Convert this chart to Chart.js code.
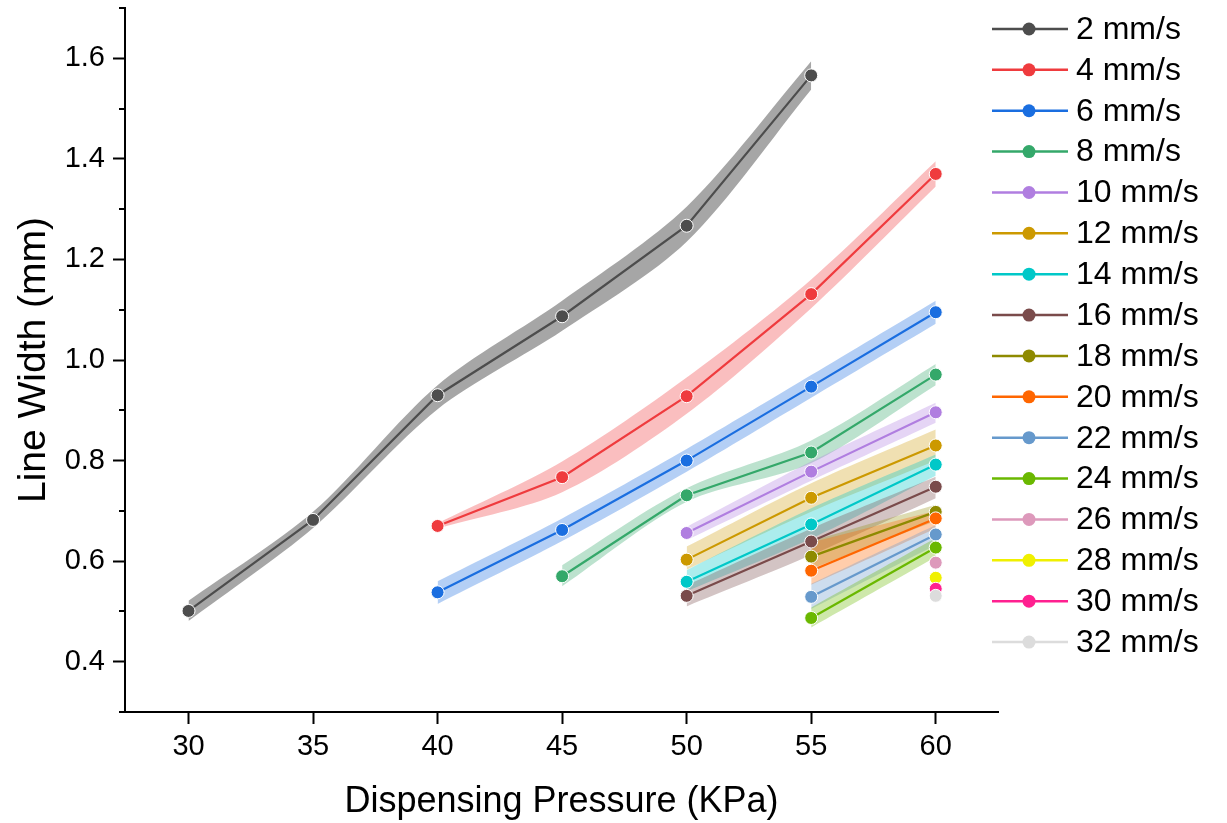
<!DOCTYPE html>
<html>
<head>
<meta charset="utf-8">
<script src="https://cdn.jsdelivr.net/npm/chart.js@4.4.1/dist/chart.umd.min.js"></script>
<style>
    html, body { margin: 0; padding: 0; background: #fff; }
</style>
</head>
<body>
<canvas id="chart" width="1227" height="823"></canvas>
<script>
// trykk (KPa) langs x-aksen
const pressures = [30, 35, 40, 45, 50, 55, 60];
const xTicks = [30, 35, 40, 45, 50, 55, 60];
const yTicks = [0.4, 0.6, 0.8, 1.0, 1.2, 1.4, 1.6];
const yMinorTicks = [0.3, 0.5, 0.7, 0.9, 1.1, 1.3, 1.5, 1.7];

// linjebredde (mm), null = ikke målt
const w2 = [0.501, 0.682, 0.930, 1.087, 1.267, 1.566, null];
const w4 = [null, null, 0.670, 0.767, 0.928, 1.131, 1.370];
const w6 = [null, null, 0.538, 0.662, 0.800, 0.947, 1.095];
const w8 = [null, null, null, 0.570, 0.731, 0.816, 0.971];
const w10 = [null, null, null, null, 0.656, 0.778, 0.896];
const w12 = [null, null, null, null, 0.603, 0.726, 0.830];
const w14 = [null, null, null, null, 0.559, 0.673, 0.792];
const w16 = [null, null, null, null, 0.531, 0.639, 0.748];
const w18 = [null, null, null, null, null, 0.609, 0.698];
const w20 = [null, null, null, null, null, 0.581, 0.685];
const w22 = [null, null, null, null, null, 0.529, 0.653];
const w24 = [null, null, null, null, null, 0.487, 0.627];
const w26 = [null, null, null, null, null, null, 0.597];
const w28 = [null, null, null, null, null, null, 0.567];
const w30 = [null, null, null, null, null, null, 0.545];
const w32 = [null, null, null, null, null, null, 0.531];

// nedre / øvre grense for skyggebåndet (samme punkter som målingene)
const lo2 = [0.481, 0.666, 0.902, 1.058, 1.235, 1.538];
const hi2 = [0.521, 0.698, 0.950, 1.118, 1.305, 1.594];
const lo4 = [0.665, 0.737, 0.893, 1.103, 1.345];
const hi4 = [0.675, 0.798, 0.965, 1.160, 1.395];
const lo6 = [0.515, 0.640, 0.778, 0.925, 1.072];
const hi6 = [0.560, 0.685, 0.823, 0.970, 1.118];
const lo8 = [0.550, 0.718, 0.795, 0.950];
const hi8 = [0.592, 0.745, 0.840, 0.992];
const lo10 = [0.642, 0.760, 0.875];
const hi10 = [0.668, 0.798, 0.915];
const lo12 = [0.583, 0.698, 0.800];
const hi12 = [0.629, 0.755, 0.862];
const lo14 = [0.540, 0.645, 0.770];
const hi14 = [0.582, 0.705, 0.812];
const lo16 = [0.510, 0.612, 0.725];
const hi16 = [0.552, 0.665, 0.768];
const lo18 = [0.585, 0.680];
const hi18 = [0.640, 0.712];
const lo20 = [0.553, 0.665];
const hi20 = [0.637, 0.700];
const lo22 = [0.505, 0.632];
const hi22 = [0.555, 0.672];
const lo24 = [0.468, 0.608];
const hi24 = [0.508, 0.646];

const serier = [
    { navn: "2 mm/s", farge: "#4d4d4d", alfa: 0.5, y: w2, lo: lo2, hi: hi2 },
    { navn: "4 mm/s", farge: "#ef3b3e", alfa: 0.33, y: w4, lo: lo4, hi: hi4 },
    { navn: "6 mm/s", farge: "#1a6ee0", alfa: 0.33, y: w6, lo: lo6, hi: hi6 },
    { navn: "8 mm/s", farge: "#34a86a", alfa: 0.33, y: w8, lo: lo8, hi: hi8 },
    { navn: "10 mm/s", farge: "#b07ee0", alfa: 0.33, y: w10, lo: lo10, hi: hi10 },
    { navn: "12 mm/s", farge: "#cc9900", alfa: 0.3, y: w12, lo: lo12, hi: hi12 },
    { navn: "14 mm/s", farge: "#00c8c8", alfa: 0.33, y: w14, lo: lo14, hi: hi14 },
    { navn: "16 mm/s", farge: "#7a4b4b", alfa: 0.33, y: w16, lo: lo16, hi: hi16 },
    { navn: "18 mm/s", farge: "#8e8a00", alfa: 0.3, y: w18, lo: lo18, hi: hi18 },
    { navn: "20 mm/s", farge: "#ff6600", alfa: 0.33, y: w20, lo: lo20, hi: hi20 },
    { navn: "22 mm/s", farge: "#6699cc", alfa: 0.33, y: w22, lo: lo22, hi: hi22 },
    { navn: "24 mm/s", farge: "#6ab800", alfa: 0.33, y: w24, lo: lo24, hi: hi24 },
    { navn: "26 mm/s", farge: "#dd99bb", alfa: 0.33, y: w26 },
    { navn: "28 mm/s", farge: "#f0f000", alfa: 0.33, y: w28 },
    { navn: "30 mm/s", farge: "#ff2090", alfa: 0.33, y: w30 },
    { navn: "32 mm/s", farge: "#dcdcdc", alfa: 0.33, y: w32 }
];

const fontFamily = '"Liberation Sans", Arial, sans-serif';

function rgba(hex, a) {
    const n = parseInt(hex.slice(1), 16);
    return "rgba(" + (n >> 16) + "," + ((n >> 8) & 255) + "," + (n & 255) + "," + a + ")";
}

function lagDatasett() {
    const sett = [];
    serier.forEach(function (s, k) {
        const xs = pressures.filter((p, i) => s.y[i] !== null);
        const ys = s.y.filter(v => v !== null);

        if (s.lo) {
            const loIndex = sett.length;
            sett.push({
                data: xs.map((x, i) => ({ x: x, y: s.lo[i] })),
                borderWidth: 0,
                pointRadius: 0,
                fill: false,
                tension: 0.3,
                order: 1000 - k
            });
            sett.push({
                data: xs.map((x, i) => ({ x: x, y: s.hi[i] })),
                borderWidth: 0,
                pointRadius: 0,
                fill: loIndex,
                backgroundColor: rgba(s.farge, s.alfa),
                tension: 0.3,
                order: 1000 - k
            });
        }

        sett.push({
            label: s.navn,
            data: xs.map((x, i) => ({ x: x, y: ys[i] })),
            borderColor: s.farge,
            borderWidth: 2.2,
            pointRadius: 6.5,
            pointBackgroundColor: s.farge,
            pointBorderColor: "#fff",
            pointBorderWidth: 1,
            fill: false,
            tension: 0,
            order: 100 - k
        });
    });
    return sett;
}

const minorTickPlugin = {
    id: "minorTicks",
    afterDraw(chart) {
        const ctx = chart.ctx;
        const y = chart.scales.y;
        const left = chart.chartArea.left;
        ctx.save();
        ctx.strokeStyle = "#000";
        ctx.lineWidth = 2;
        yMinorTicks.forEach(function (v) {
            const py = Math.round(y.getPixelForValue(v));
            ctx.beginPath();
            ctx.moveTo(left - 6, py);
            ctx.lineTo(left, py);
            ctx.stroke();
        });
        ctx.restore();
    }
};

const legendePlugin = {
    id: "legende",
    afterDraw(chart) {
        const ctx = chart.ctx;
        ctx.save();
        ctx.font = "32px " + fontFamily;
        ctx.textBaseline = "middle";
        serier.forEach(function (s, i) {
            const y = 29 + i * 40.87;
            ctx.strokeStyle = s.farge;
            ctx.lineWidth = 2.5;
            ctx.beginPath();
            ctx.moveTo(992, y);
            ctx.lineTo(1068, y);
            ctx.stroke();
            ctx.fillStyle = s.farge;
            ctx.beginPath();
            ctx.arc(1029, y, 6.5, 0, 2 * Math.PI);
            ctx.fill();
            ctx.fillStyle = "#000";
            ctx.fillText(s.navn, 1076, y + 1);
        });
        ctx.restore();
    }
};

const config = {
    type: "line",
    data: { datasets: lagDatasett() },
    options: {
        responsive: false,
        animation: false,
        layout: { padding: { left: 0, right: 229, top: 8, bottom: 0 } },
        plugins: {
            legend: { display: false },
            tooltip: { enabled: false }
        },
        scales: {
            x: {
                type: "linear",
                min: 27.45,
                max: 62.5,
                afterBuildTicks: function (scale) {
                    scale.ticks = xTicks.map(v => ({ value: v }));
                },
                afterFit: function (scale) {
                    scale.height = 111;
                    scale.paddingLeft = 0;
                    scale.paddingRight = 0;
                },
                ticks: {
                    color: "#000",
                    font: { family: fontFamily, size: 29 },
                    padding: 6,
                    maxRotation: 0,
                    callback: v => v
                },
                grid: {
                    drawOnChartArea: false,
                    tickLength: 12,
                    tickColor: "#000",
                    tickWidth: 2
                },
                border: { color: "#000", width: 2 },
                title: {
                    display: true,
                    text: "Dispensing Pressure (KPa)",
                    color: "#000",
                    font: { family: fontFamily, size: 36, lineHeight: 1 },
                    padding: { top: 0, bottom: 3 }
                }
            },
            y: {
                min: 0.3,
                max: 1.7,
                afterBuildTicks: function (scale) {
                    scale.ticks = yTicks.map(v => ({ value: v }));
                },
                afterFit: function (scale) {
                    scale.width = 125;
                    scale.paddingTop = 0;
                    scale.paddingBottom = 0;
                },
                ticks: {
                    color: "#000",
                    font: { family: fontFamily, size: 29 },
                    padding: 8,
                    callback: v => v.toFixed(1)
                },
                grid: {
                    drawOnChartArea: false,
                    tickLength: 12,
                    tickColor: "#000",
                    tickWidth: 2
                },
                border: { color: "#000", width: 2 },
                title: {
                    display: true,
                    text: "Line Width (mm)",
                    color: "#000",
                    font: { family: fontFamily, size: 39, lineHeight: 1 },
                    padding: { top: 15, bottom: 0 }
                }
            }
        }
    },
    plugins: [minorTickPlugin, legendePlugin]
};

const myChart = new Chart(document.getElementById("chart"), config);
</script>
</body>
</html>
